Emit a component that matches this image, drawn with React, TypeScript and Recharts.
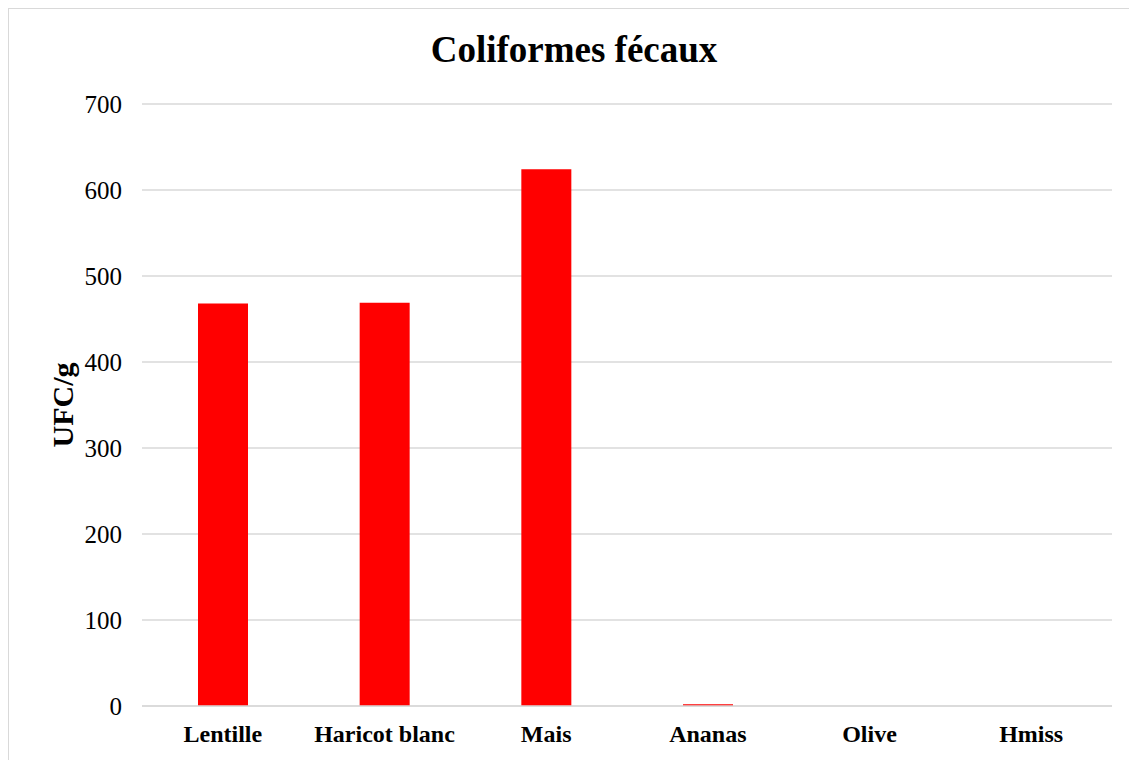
import { Bar, BarChart, CartesianGrid, XAxis, YAxis } from 'recharts';

const categories = ['Lentille', 'Haricot blanc', 'Mais', 'Ananas', 'Olive', 'Hmiss'];
const ufcValues = [468, 469, 624, 2, 0, 0];
const yTicks = [0, 100, 200, 300, 400, 500, 600, 700];

const data = categories.map((name, i) => ({ name, ufc: ufcValues[i] }));

const font = '"Liberation Serif", "Times New Roman", serif';

export default function App() {
  return (
    <div
      style={{
        position: 'relative',
        width: 1140,
        height: 770,
        border: '1px solid #d9d9d9',
        boxSizing: 'border-box',
        background: '#fff',
        fontFamily: font,
      }}
    >
      <div
        style={{
          position: 'absolute',
          top: 22,
          left: 0,
          width: 1130,
          textAlign: 'center',
          fontSize: 37,
          lineHeight: 1,
          fontWeight: 'bold',
          color: '#000',
        }}
      >
        Coliformes fécaux
      </div>
      <BarChart
        width={1128}
        height={751}
        data={data}
        margin={{ top: 95, right: 25, bottom: 0, left: 0 }}
        style={{ fontFamily: font }}
      >
        <CartesianGrid vertical={false} stroke="#d9d9d9" strokeWidth={1.5} />
        <XAxis
          dataKey="name"
          height={54}
          tickLine={false}
          axisLine={{ stroke: '#d9d9d9', strokeWidth: 1.5 }}
          tickMargin={13}
          interval={0}
          tick={{ fill: '#000', fontSize: 24, fontWeight: 'bold', fontFamily: font }}
        />
        <YAxis
          width={133}
          domain={[0, 700]}
          ticks={yTicks}
          tickLine={false}
          axisLine={false}
          tickMargin={14}
          tick={{ fill: '#000', fontSize: 25, fontFamily: font }}
          label={{
            content: ({ viewBox }: any) => {
              const cx = viewBox.x + 53;
              const cy = viewBox.y + viewBox.height / 2;
              return (
                <text
                  x={cx}
                  y={cy}
                  transform={`rotate(-90 ${cx} ${cy})`}
                  textAnchor="middle"
                  dominantBaseline="central"
                  fontSize={30}
                  fontWeight="bold"
                  fontFamily={font}
                  fill="#000"
                >
                  UFC/g
                </text>
              );
            },
          }}
        />
        <Bar dataKey="ufc" fill="#ff0000" barSize={50} isAnimationActive={false} />
      </BarChart>
    </div>
  );
}
